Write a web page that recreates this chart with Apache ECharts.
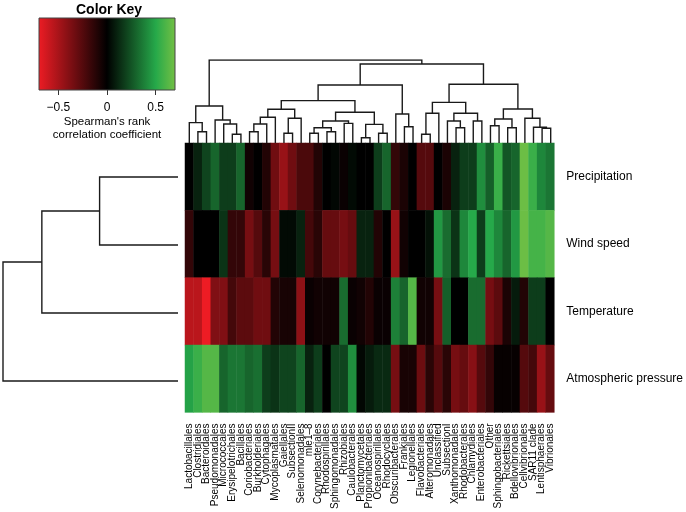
<!DOCTYPE html>
<html><head><meta charset="utf-8">
<script src="https://cdn.jsdelivr.net/npm/echarts@6/dist/echarts.min.js"></script>
<style>html,body{margin:0;padding:0;background:#fff}#c{width:686px;height:512px}</style>
</head><body><div id="c"></div>
<script>
const colNames = ['Lactobacillales','Clostridiales','Bacteroidales','Pseudomonadales','Micrococcales','Erysipelotrichales','Bacillales','Coriobacteriales','Burkholderiales','Cytophagales','Mycoplasmatales','Gaiellales','SubsectionII','Selenomonadales','mle1\u20138','Corynebacteriales','Rhodospirillales','Sphingomonadales','Rhizobiales','Caulobacterales','Planctomycetales','Propionibacteriales','Oceanospirillales','Rhodocyclales','Obscuribacterales','Frankiales','Legionellales','Flavobacteriales','Alteromonadales','Unclassified','SubsectionI','Xanthomonadales','Rhodobacterales','Chlamydiales','Enterobacteriales','Other','Sphingobacteriales','Rickettsiales','Bdellovibrionales','Cellvibrionales','SAR11 clade','Lentisphaerales','Vibrionales'];
const rowNames = ['Precipitation','Wind speed','Temperature','Atmospheric pressure'];

const precipitation = [0,0.1,0.2,0.3,0.18,0.18,0.3,-0.05,0,-0.1,-0.33,-0.45,-0.33,-0.22,-0.22,-0.1,0,0.02,-0.03,0.03,0,0,0.18,0.3,-0.15,-0.08,0,-0.25,-0.25,0,-0.08,0.1,0.18,0.18,0.42,0.28,0.55,0.25,0.3,0.68,0.55,0.4,0.35];
const windSpeed = [-0.15,0,0,0,0.15,-0.15,-0.15,-0.35,-0.25,-0.12,-0.35,0.03,0.03,0.1,-0.2,-0.12,-0.3,-0.3,-0.35,-0.3,0.1,0.1,-0.1,0,-0.45,-0.05,0,0,0.05,0.45,0.32,0.15,0.4,0.5,0.18,0.5,0.4,0.3,0.45,0.68,0.58,0.58,0.62];
const temperature = [-0.55,-0.55,-0.7,-0.38,-0.38,-0.2,-0.27,-0.27,-0.33,-0.33,-0.1,-0.07,-0.07,-0.42,-0.03,-0.05,-0.05,-0.05,0.32,-0.03,-0.05,-0.1,-0.03,-0.03,0.38,0.3,0.62,-0.05,-0.05,-0.35,0.28,0,0,0.32,0.32,-0.35,-0.27,-0.08,0.08,-0.1,0.18,0.18,0];
const atmosphericPressure = [0.48,0.55,0.62,0.62,0.3,0.35,0.35,0.3,0.33,0.18,0.15,0.2,0.2,0.3,0.1,0.18,0,0.2,0.2,0.42,0.02,0.08,0.12,0.12,-0.35,-0.07,-0.07,-0.32,-0.12,-0.25,-0.12,-0.35,-0.3,-0.4,-0.25,-0.15,-0.02,-0.02,-0.02,-0.25,-0.2,-0.45,-0.3];

// dendrograms: [height, left, right]; numbers are leaf indices
const colTree = [1.0,
  [0.446, [0.245, 0, [0.136, 1, 2]], [0.277, 3, [0.229, 4, [0.105, 5, 6]]]],
  [0.952,
    [0.699,
      [0.51,
        [0.406, [0.31, [0.229, [0.136, 7, 8], 9], 10], [0.298, [0.117, 11, 12], 13]],
        [0.37, [0.265, [0.184, [0.117, 14, 15], [0.136, 16, 17]], [0.237, 18, 19]], [0.225, [0.064, 20, 21], [0.117, 22, 23]]]],
      [0.349, 24, [0.196, 25, 26]]],
    [0.707,
      [0.49, [0.358, [0.105, 27, 28], 29], [0.358, [0.265, 30, [0.184, 31, 32]], [0.265, 33, 34]]],
      [0.41, [0.289, [0.208, 35, 36], [0.184, 37, 38]], [0.298, 39, [0.189, 40, [0.177, 41, 42]]]]]]];
const rowTree = [1.0, [0.778, [0.448, 0, 1], 2], 3];

const keyTicks = [-0.5, 0, 0.5];
const keyRange = [-0.7, 0.7];
const colorStops = [[-0.7,'#ED1C24'],[0,'#000000'],[0.5,'#26A94A'],[0.7,'#74C044']];

function hex2rgb(h){return [parseInt(h.slice(1,3),16),parseInt(h.slice(3,5),16),parseInt(h.slice(5,7),16)];}
function colorAt(v){
  if (v <= colorStops[0][0]) return colorStops[0][1];
  for (let i=1;i<colorStops.length;i++){
    if (v <= colorStops[i][0]){
      const [v0,c0]=colorStops[i-1],[v1,c1]=colorStops[i];
      const t=(v-v0)/(v1-v0), a=hex2rgb(c0), b=hex2rgb(c1);
      return 'rgb('+a.map((x,k)=>Math.round(x+(b[k]-x)*t)).join(',')+')';
    }
  }
  return colorStops[colorStops.length-1][1];
}
const vmColors=[]; for(let k=0;k<=28;k++){vmColors.push(colorAt(keyRange[0]+k*0.05));}

function layout(node, segs, swap){
  if (typeof node === 'number') return {x:node,h:0};
  const [h,l,r]=node;
  const a=layout(l,segs,swap), b=layout(r,segs,swap);
  let pts=[[a.x,a.h],[a.x,h],[b.x,h],[b.x,b.h]];
  if (swap) pts=pts.map(p=>[p[1],p[0]]);
  segs.push({coords:pts});
  return {x:(a.x+b.x)/2,h};
}
const colSegs=[]; layout(colTree,colSegs,false);
const rowSegs=[]; layout(rowTree,rowSegs,true);

const rows=[precipitation,windSpeed,temperature,atmosphericPressure];
const heatData=[];
rows.forEach((r,j)=>r.forEach((v,i)=>heatData.push([i,j,v])));

const FONT='"Liberation Sans", Arial, sans-serif';
const chart=echarts.init(document.getElementById('c'));
const lineStyle={color:'#1a1a1a',width:1.4,opacity:1};
chart.setOption({
  animation:false,
  textStyle:{fontFamily:FONT,color:'#000'},
  title:{text:'Color Key',left:76,top:3,padding:0,textStyle:{fontSize:14,fontWeight:'bold',color:'#000',fontFamily:FONT}},
  grid:[
    {left:185,top:143,width:370,height:272},
    {left:185,top:60,width:370,height:83},
    {left:3,top:143,width:175,height:272},
    {left:39,top:18,width:136,height:72}
  ],
  xAxis:[
    {type:'category',gridIndex:0,data:colNames,position:'bottom',axisLine:{show:false},axisTick:{show:false},splitLine:{show:false},
     axisLabel:{rotate:90,interval:0,fontSize:10,margin:11,color:'#000',fontFamily:FONT}},
    {type:'value',gridIndex:1,min:-0.5,max:42.5,show:false},
    {type:'value',gridIndex:2,min:0,max:1,inverse:true,show:false},
    {type:'value',gridIndex:3,min:keyRange[0],max:keyRange[1],axisLine:{show:false},splitLine:{show:false},
     axisTick:{show:true,customValues:keyTicks,length:5,lineStyle:{color:'#333'}},
     axisLabel:{customValues:keyTicks,fontSize:12,margin:12,color:'#000',fontFamily:FONT,formatter:v=>v===0?'0':(v<0?'\u2212'+Math.abs(v):String(v))},
     name:"Spearman's rank\ncorrelation coefficient",nameLocation:'middle',nameGap:25,
     nameTextStyle:{fontSize:11.5,lineHeight:13,color:'#000',fontFamily:FONT}}
  ],
  yAxis:[
    {type:'category',gridIndex:0,data:rowNames,inverse:true,position:'right',axisLine:{show:false},axisTick:{show:false},splitLine:{show:false},
     axisLabel:{fontSize:12,margin:12,color:'#000',fontFamily:FONT}},
    {type:'value',gridIndex:1,min:0,max:1,show:false},
    {type:'value',gridIndex:2,min:-0.5,max:3.5,inverse:true,show:false},
    {type:'value',gridIndex:3,min:0,max:1,show:false}
  ],
  visualMap:{type:'continuous',min:keyRange[0],max:keyRange[1],show:false,seriesIndex:0,dimension:2,inRange:{color:vmColors}},
  series:[
    {type:'heatmap',xAxisIndex:0,yAxisIndex:0,data:heatData,itemStyle:{borderWidth:0},silent:true,emphasis:{disabled:true}},
    {type:'lines',coordinateSystem:'cartesian2d',xAxisIndex:1,yAxisIndex:1,polyline:true,data:colSegs,lineStyle:lineStyle,silent:true},
    {type:'lines',coordinateSystem:'cartesian2d',xAxisIndex:2,yAxisIndex:2,polyline:true,data:rowSegs,lineStyle:lineStyle,silent:true},
    {type:'custom',xAxisIndex:3,yAxisIndex:3,data:[[keyRange[0],keyRange[1]]],silent:true,
     renderItem:function(params,api){
       const p0=api.coord([api.value(0),1]), p1=api.coord([api.value(1),0]);
       const stops=colorStops.map(s=>({offset:(s[0]-keyRange[0])/(keyRange[1]-keyRange[0]),color:s[1]}));
       return {type:'rect',shape:{x:p0[0],y:p0[1],width:p1[0]-p0[0],height:p1[1]-p0[1]},
         style:{fill:new echarts.graphic.LinearGradient(0,0,1,0,stops),stroke:'#444',lineWidth:1}};
     }}
  ]
});
</script></body></html>
